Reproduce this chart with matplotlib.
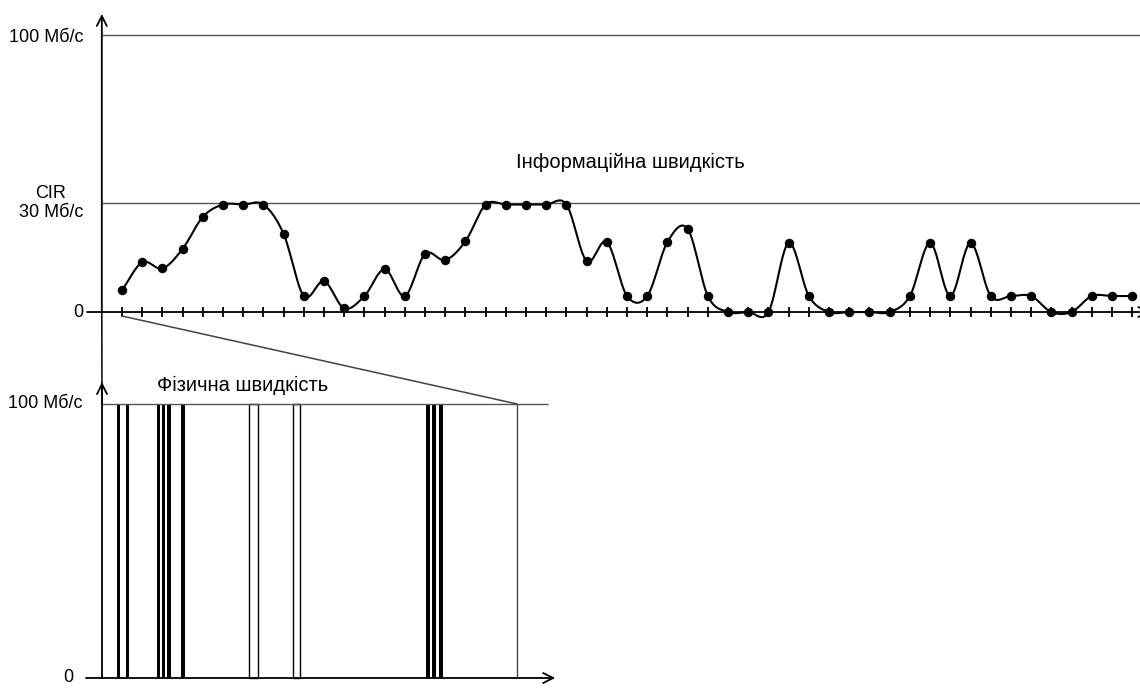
import numpy as np
import matplotlib
matplotlib.use("Agg")
import matplotlib.pyplot as plt
from matplotlib.patches import ConnectionPatch

plt.rcParams['font.family'] = ['Liberation Sans', 'DejaVu Sans']

# information rate, one value per time slot (CIR = 30)
slots = np.arange(1, 52)
info_rate = [6, 13.7, 12, 17.4, 26.2, 29.6, 29.6, 29.6, 21.5, 4.4,
             8.5, 1, 4.4, 11.8, 4.4, 16, 14.3, 19.5, 29.6, 29.6,
             29.6, 29.6, 29.6, 14, 19.3, 4.4, 4.4, 19.3, 22.9, 4.4,
             0, 0, 0, 19, 4.4, 0, 0, 0, 0, 4.4,
             19, 4.4, 19, 4.4, 4.4, 4.4, 0, 0, 4.4, 4.4, 4.4]
cir = 30
top_rate = 76.3          # where "100 Мб/с" sits on the schematic axis

# physical rate inside the first slot (time units 0..100)
slot_len = 100
burst_centers = [3.98, 6.14, 13.61, 14.82, 16.14, 19.52, 78.55, 80.0, 81.69]
burst_width = 0.92
gap_starts = [35.4, 46.0]
gap_widths = [2.17, 1.69]
line_rate = 100

y_labels_top = ['0', 'CIR\n30 Мб/с', '100 Мб/с']
y_labels_low = ['0', '100 Мб/с']


def catmull_rom(y, n=24):
    y = np.asarray(y, dtype=float)
    p = np.concatenate([[2 * y[0] - y[1]], y, [2 * y[-1] - y[-2]]])
    s = np.linspace(0, 1, n, endpoint=False)
    out = []
    for k in range(1, len(p) - 2):
        p0, p1, p2, p3 = p[k - 1:k + 3]
        out.append(0.5 * (2 * p1 + (-p0 + p2) * s
                          + (2 * p0 - 5 * p1 + 4 * p2 - p3) * s ** 2
                          + (-p0 + 3 * p1 - 3 * p2 + p3) * s ** 3))
    out.append([y[-1]])
    return np.concatenate(out)


def axis_arrow(ax, start, end):
    ax.annotate('', xy=end, xytext=start, annotation_clip=False,
                arrowprops=dict(arrowstyle='->', lw=1.3, color='black',
                                shrinkA=0, shrinkB=0, mutation_scale=18))


fig = plt.figure(figsize=(11.4, 6.88), dpi=100)

# ---- top chart: information rate ----
ax = fig.add_axes([0, 1 - 340 / 688, 1, 340 / 688])
ax.set_xlim(-5.04, 51.39)
ax.set_ylim(-7.71, 85.95)
ax.axis('off')

ax.hlines([cir, top_rate], 0, 51.39, color='#555555', lw=1.0)
axis_arrow(ax, (-0.73, 0), (51.9, 0))
axis_arrow(ax, (0, 0), (0, 82.1))
ax.vlines(slots, -1.38, 1.38, color='black', lw=1.3)

xs = np.linspace(slots[0], slots[-1], (len(slots) - 1) * 24 + 1)
ax.plot(xs, catmull_rom(info_rate), color='black', lw=1.5)
ax.plot(slots, info_rate, 'o', color='black', ms=5.8)

ax.text(-0.93, 0, y_labels_top[0], ha='right', va='center', fontsize=13)
ax.text(-0.93, cir, y_labels_top[1], ha='right', va='center',
        multialignment='center', fontsize=13)
ax.text(-0.93, 75.5, y_labels_top[2], ha='right', va='center', fontsize=13)
ax.text(26.15, 41.3, 'Інформаційна швидкість', ha='center', va='center',
        fontsize=14.5)

# ---- bottom chart: physical rate in one slot ----
ax2 = fig.add_axes([0, 0, 600 / 1140, 338 / 688])
ax2.set_xlim(-24.58, 120.0)
ax2.set_ylim(-3.65, 119.7)
ax2.axis('off')

ax2.hlines(line_rate, 0, 107.5, color='#555555', lw=1.0)
ax2.vlines(slot_len, 0, line_rate, color='#444444', lw=1.0)
ax2.bar(burst_centers, line_rate, width=burst_width, color='black', lw=0)
ax2.bar(gap_starts, line_rate, width=gap_widths, align='edge',
        facecolor='white', edgecolor='black', lw=1.0)
axis_arrow(ax2, (-3.86, 0), (109.2, 0))
axis_arrow(ax2, (0, 0), (0, 108))

ax2.text(-7.0, 0, y_labels_low[0], ha='right', va='center', fontsize=13)
ax2.text(-4.58, line_rate, y_labels_low[1], ha='right', va='center',
         fontsize=13)
ax2.text(13.25, 106.9, 'Фізична швидкість', ha='left', va='center',
         fontsize=14.5)

# zoom lines from the first slot down to the detail chart
for (x1, y1), (x2, y2), lc in [((0, 0), (0, line_rate), 'black'),
                               ((1, -1.1), (slot_len, line_rate), '#444444')]:
    con = ConnectionPatch(xyA=(x1, y1), coordsA=ax.transData,
                          xyB=(x2, y2), coordsB=ax2.transData,
                          color=lc, lw=1.1)
    fig.add_artist(con)

fig.savefig('out.png', dpi=100)
